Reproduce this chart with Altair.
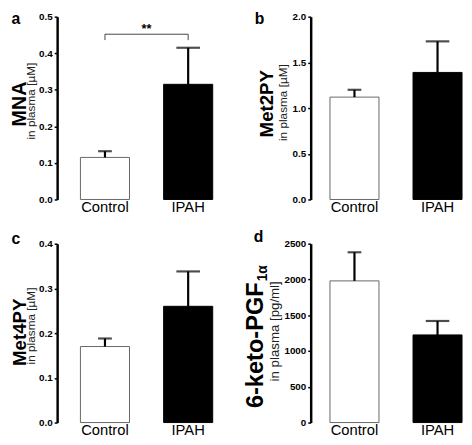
import altair as alt
import pandas as pd

groups = ["Control", "IPAH"]

mna_mean = [0.115, 0.315]
mna_sem = [0.017, 0.100]

met2py_mean = [1.12, 1.39]
met2py_sem = [0.08, 0.34]

met4py_mean = [0.170, 0.260]
met4py_sem = [0.018, 0.078]

pgf_mean = [1980, 1225]
pgf_sem = [400, 195]

ticks_mna = [0, 0.1, 0.2, 0.3, 0.4, 0.5]
ticks_met2py = [0, 0.5, 1.0, 1.5, 2.0]
ticks_met4py = [0, 0.1, 0.2, 0.3, 0.4]
ticks_pgf = [0, 500, 1000, 1500, 2000, 2500]

sig_bracket_y = [0.436, 0.452, 0.452, 0.436]
sig_bracket_x = ["Control", "Control", "IPAH", "IPAH"]
sig_label = "**"

FONT = "Liberation Sans"


def text_layer(txt, x, y, size, weight="bold", angle=0, align="center", baseline="alphabetic", color="black"):
    return alt.Chart(pd.DataFrame({"t": [txt]})).mark_text(
        font=FONT, fontSize=size, fontWeight=weight, angle=angle,
        align=align, baseline=baseline, color=color
    ).encode(text="t:N", x=alt.value(x), y=alt.value(y))


def panel(letter, name, unit, means, sems, ticks, fmt, width, height, xscale,
          title_x, title_size, unit_x, unit_size, letter_x, letter_y, title_frac, unit_frac,
          cap_range, sig=False, subscript=None):
    df = pd.DataFrame({
        "group": groups,
        "mean": means,
        "upper": [m + s for m, s in zip(means, sems)],
    })
    yscale = alt.Scale(domain=[ticks[0], ticks[-1]], nice=False, zero=True)
    yaxis = alt.Axis(values=ticks, format=fmt, title=None, labelFont=FONT,
                     labelFontSize=10, labelFontWeight="bold", labelColor="black",
                     labelPadding=2, tickSize=3, tickWidth=1.5, tickColor="black",
                     domainWidth=2.5, domainColor="black", grid=False)
    xaxis = alt.Axis(title=None, labelAngle=0, labelFont=FONT, labelFontSize=15,
                     labelColor="black", labelPadding=0, domain=False, ticks=False,
                     tickSize=0)
    X = alt.X("group:N", sort=groups, scale=xscale, axis=xaxis)

    base = alt.Chart(df)
    bars = base.mark_bar(strokeWidth=1).encode(
        x=X,
        y=alt.Y("mean:Q", scale=yscale, axis=yaxis),
        fill=alt.Fill("group:N", scale=alt.Scale(domain=groups, range=["white", "black"]), legend=None),
        stroke=alt.Stroke("group:N", scale=alt.Scale(domain=groups, range=["#666666", "black"]), legend=None),
    )
    rule = base.mark_rule(color="black", strokeWidth=2.2).encode(
        x=X, y=alt.Y("mean:Q", scale=yscale, axis=yaxis), y2="upper:Q")
    cap = base.mark_tick(color="black", thickness=2.2).encode(
        x=X, y=alt.Y("upper:Q", scale=yscale, axis=yaxis),
        size=alt.Size("group:N", scale=alt.Scale(domain=groups, range=cap_range), legend=None))

    layers = [bars, rule, cap]

    if sig:
        sdf = pd.DataFrame({"group": sig_bracket_x, "y": sig_bracket_y, "o": [0, 1, 2, 3]})
        bracket = alt.Chart(sdf).mark_line(color="#444444", strokeWidth=1).encode(
            x=X, y=alt.Y("y:Q", scale=yscale, axis=yaxis), order="o:Q")
        star = alt.Chart(pd.DataFrame({"t": [sig_label], "y": [0.455]})).mark_text(
            font=FONT, fontSize=13, fontWeight="bold", baseline="alphabetic", align="center"
        ).encode(text="t:N", x=alt.value(width / 2), y=alt.Y("y:Q", scale=yscale, axis=yaxis))
        layers += [bracket, star]

    layers.append(text_layer(letter, letter_x, letter_y, 16))
    if subscript is None:
        layers.append(text_layer(name, title_x, height * title_frac, title_size, angle=270))
    else:
        ys = height * title_frac
        layers.append(text_layer(name, title_x, ys, title_size, angle=270, align="right"))
        layers.append(text_layer(subscript, title_x + 5, ys - 1, 14, angle=270, align="left"))
    layers.append(text_layer(unit, unit_x, height * unit_frac, unit_size, weight="normal",
                             angle=270, color="#222222"))

    return alt.layer(*layers).properties(width=width, height=height)


W1, W2 = 182, 154
H1, H2 = 186, 182
xs1 = alt.Scale(domain=groups, paddingInner=0.41, paddingOuter=0.28)
xs2 = alt.Scale(domain=groups, paddingInner=0.41, paddingOuter=0.116, align=1)

pa = panel("a", "MNA", "in plasma [µM]", mna_mean, mna_sem, ticks_mna, ".1f", W1, H1, xs1,
           title_x=-32, title_size=20, unit_x=-23, unit_size=12, letter_x=-42, letter_y=7,
           title_frac=0.478, unit_frac=0.462, cap_range=[14, 24], sig=True)
pb = panel("b", "Met2PY", "in plasma [µM]", met2py_mean, met2py_sem, ticks_met2py, ".1f", W2, H1, xs2,
           title_x=-38, title_size=19, unit_x=-24, unit_size=12, letter_x=-52, letter_y=7,
           title_frac=0.476, unit_frac=0.47, cap_range=[15, 23])
pc = panel("c", "Met4PY", "in plasma [µM]", met4py_mean, met4py_sem, ticks_met4py, ".1f", W1, H2, xs1,
           title_x=-32, title_size=19, unit_x=-23, unit_size=12, letter_x=-42, letter_y=0,
           title_frac=0.495, unit_frac=0.46, cap_range=[14, 24])
pd_ = panel("d", "6-keto-PGF", "in plasma [pg/ml]", pgf_mean, pgf_sem, ticks_pgf, "d", W2, H2, xs2,
            title_x=-49, title_size=24, unit_x=-32, unit_size=13.5, letter_x=-53, letter_y=-2,
            title_frac=0.216, unit_frac=0.49, cap_range=[20, 26], subscript="1α")

chart = alt.concat(
    pa, pb, pc, pd_, columns=2,
    spacing=alt.RowColnumber(row=45, column=76), bounds="flush",
).configure_view(stroke=None).properties(
    autosize=alt.AutoSizeParams(type="none"),
    padding={"left": 50, "top": 5, "right": 414, "bottom": 432},
    background="white",
)

chart.save("out.html", embed_options={"renderer": "svg", "actions": False})
